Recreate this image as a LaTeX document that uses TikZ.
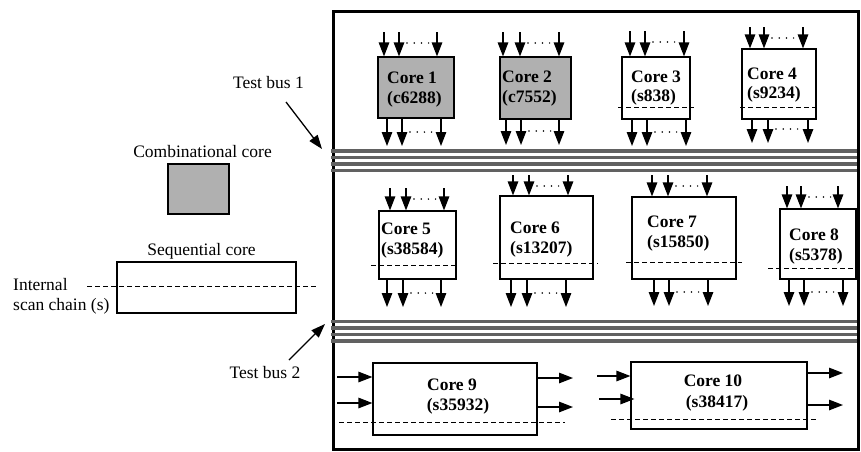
\documentclass[tikz,border=0pt]{standalone}
\usepackage{fontspec}
\setmainfont{Liberation Serif}
\usetikzlibrary{arrows.meta}

\tikzset{
  corebox/.style={draw, line width=1.2pt, inner sep=0pt, fill=white},
  combcore/.style={corebox, fill=black!31},
  lbl/.style={inner sep=0pt, font=\fontsize{17.5}{20}\selectfont},
  blbl/.style={inner sep=0pt, font=\fontsize{17.5}{20}\selectfont\bfseries},
  sig/.style={line width=1.3pt, -{Triangle[length=14pt,width=10.5pt]}},
  chaindots/.style={line width=1.7pt, line cap=round, dash pattern=on 0pt off 7.2pt},
  scan/.style={line width=1pt, dash pattern=on 4.5pt off 3.5pt},
  bus/.style={line width=3.3pt, draw=black!62},
  pointer/.style={line width=1.3pt, -{Triangle[length=14pt,width=10pt]}},
  frame/.style={line width=3pt},
}

% three inputs entering the top of a core, with dots between the 2nd and 3rd
\newcommand{\topins}[5]{%
  \foreach \xx [count=\k] in {#2,#3,#4}{
    \coordinate (#1in\k) at (\xx,#5);
    \draw[sig] (#1in\k) -- (#1in\k |- #1.north);}
  \draw[chaindots] ({#3+8},{#5+11}) -- ({#4-7},{#5+11});}

% three outputs leaving the bottom of a core
\newcommand{\botouts}[5]{%
  \foreach \xx [count=\k] in {#2,#3,#4}{
    \coordinate (#1out\k) at (\xx,#5);
    \draw[sig] (#1out\k |- #1.south) -- (#1out\k);}
  \draw[chaindots] ({#3+8},{#5-14}) -- ({#4-7},{#5-14});}

\begin{document}
\begin{tikzpicture}[x=1pt,y=-1pt]
\useasboundingbox (0,0) rectangle (861,451);

% SoC outline
\draw[frame] (333,11) rectangle (858.5,449);

% test buses
\foreach \yy in {151,157.5,164,170.5}
  \draw[bus] (331,\yy) -- (857,\yy);
\foreach \yy in {321.5,328,334.5,341}
  \draw[bus] (331,\yy) -- (857,\yy);

% cores
\node[combcore, minimum width=76pt, minimum height=61pt] (c1) at (416,87.5) {};
\node[combcore, minimum width=71pt, minimum height=62pt] (c2) at (535.5,88) {};
\node[corebox, minimum width=68pt, minimum height=62pt] (c3) at (656,88) {};
\node[corebox, minimum width=74pt, minimum height=70pt] (c4) at (779,84) {};
\node[corebox, minimum width=77pt, minimum height=68pt] (c5) at (417.5,245) {};
\node[corebox, minimum width=93pt, minimum height=83pt] (c6) at (546.5,237.5) {};
\node[corebox, minimum width=104pt, minimum height=82pt] (c7) at (684,238) {};
\node[corebox, minimum width=76pt, minimum height=70pt] (c8) at (818,244) {};
\node[corebox, minimum width=164pt, minimum height=72pt] (c9) at (455,399) {};
\node[corebox, minimum width=176pt, minimum height=67pt] (c10) at (719,395.5) {};

% core names
\node[blbl, anchor=base west] (n1) at (387,83) {Core 1};
\node[blbl, anchor=base west] (m1) at (387,103) {(c6288)};
\node[blbl, anchor=base west] (n2) at (502,82) {Core 2};
\node[blbl, anchor=base west] (m2) at (502,102) {(c7552)};
\node[blbl, anchor=base west] (n3) at (631,82) {Core 3};
\node[blbl, anchor=base west] (m3) at (631,101) {(s838)};
\node[blbl, anchor=base west] (n4) at (747,79) {Core 4};
\node[blbl, anchor=base west] (m4) at (747,98) {(s9234)};
\node[blbl, anchor=base west] (n5) at (381,234) {Core 5};
\node[blbl, anchor=base west] (m5) at (381,254) {(s38584)};
\node[blbl, anchor=base west] (n6) at (510,233) {Core 6};
\node[blbl, anchor=base west] (m6) at (510,253) {(s13207)};
\node[blbl, anchor=base west] (n7) at (647,227) {Core 7};
\node[blbl, anchor=base west] (m7) at (647,247) {(s15850)};
\node[blbl, anchor=base west] (n8) at (789,240) {Core 8};
\node[blbl, anchor=base west] (m8) at (789,260) {(s5378)};
\node[blbl, anchor=base] (n9) at (452,390) {Core 9};
\node[blbl, anchor=base] (m9) at (458,410) {(s35932)};
\node[blbl, anchor=base] (n10) at (713,386) {Core 10};
\node[blbl, anchor=base] (m10) at (717,407) {(s38417)};

% core terminals
\topins{c1}{384}{399}{437}{32}
\botouts{c1}{387}{402}{441}{146}
\topins{c2}{503}{520}{559}{32}
\botouts{c2}{506}{521}{559}{145}
\topins{c3}{630}{645}{684}{31}
\botouts{c3}{632}{647}{686}{146}
\topins{c4}{750}{764}{803}{27}
\botouts{c4}{752}{768}{808}{143}
\topins{c5}{390}{406}{444}{188}
\botouts{c5}{387}{403}{441}{307}
\topins{c6}{513}{529}{568}{175}
\botouts{c6}{511}{527}{566}{307}
\topins{c7}{652}{668}{707}{175}
\botouts{c7}{654}{669}{708}{306}
\topins{c8}{787}{801}{838}{186}
\botouts{c8}{789}{804}{843}{306}

% side terminals of cores 9 and 10
\coordinate (c9a) at (337,377);
\coordinate (c9b) at (337,403);
\coordinate (c9c) at (573,378);
\coordinate (c9d) at (573,407);
\draw[sig] (c9a) -- (c9a -| c9.west);
\draw[sig] (c9b) -- (c9b -| c9.west);
\draw[sig] (c9c -| c9.east) -- (c9c);
\draw[sig] (c9d -| c9.east) -- (c9d);
\coordinate (c10a) at (597,376);
\coordinate (c10b) at (599,399);
\coordinate (c10c) at (843,373);
\coordinate (c10d) at (843,405);
\draw[sig] (c10a) -- (c10a -| c10.west);
\draw[sig] (c10b) -- ([xshift=4pt]c10b -| c10.west);
\draw[sig] (c10c -| c10.east) -- (c10c);
\draw[sig] (c10d -| c10.east) -- (c10d);

% internal scan chains
\draw[scan] (618,107) -- (694,107);
\draw[scan] (740,107) -- (816,107);
\draw[scan] (371,265) -- (459,265);
\draw[scan] (493,263) -- (598,263);
\draw[scan] (626,262) -- (742,262);
\draw[scan] (768,268) -- (856,268);
\draw[scan] (339,422) -- (565,422);
\draw[scan] (611,419) -- (819,419);

% legend
\node[lbl, anchor=base] (lcomb) at (202.5,157) {Combinational core};
\node[combcore, minimum width=61pt, minimum height=50pt] (comb) at (198.5,189) {};
\node[lbl, anchor=base] (lseq) at (201.5,255) {Sequential core};
\node[corebox, minimum width=179pt, minimum height=51pt] (seq) at (206.5,287.5) {};
\draw[scan] (87,286) -- (317,286);
\node[lbl, anchor=base west] (lint) at (13,290) {Internal};
\node[lbl, anchor=base west] (lscan) at (13,310) {scan chain (s)};

% bus labels
\node[lbl, anchor=base] (tb1) at (268.5,88) {Test bus 1};
\coordinate (tb1from) at (286,102);
\coordinate (tb1to) at (322,149);
\draw[pointer] (tb1from) -- (tb1to);
\node[lbl, anchor=base] (tb2) at (265,378) {Test bus 2};
\coordinate (tb2from) at (289,360);
\coordinate (tb2to) at (325,324);
\draw[pointer] (tb2from) -- (tb2to);
\end{tikzpicture}
\end{document}
